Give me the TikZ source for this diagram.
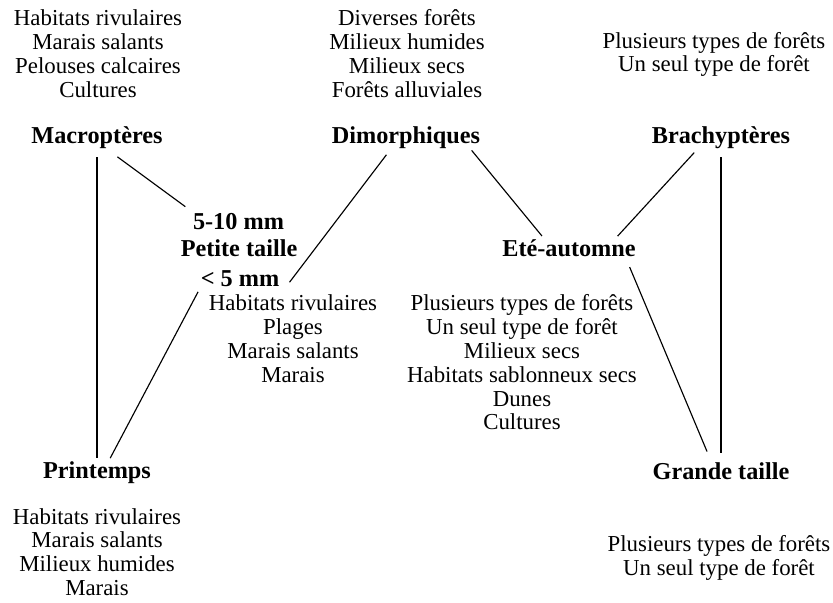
\documentclass[tikz,border=0pt]{standalone}
\usepackage{fontspec}
\setmainfont{Liberation Serif}
\usepackage{tikz}
\usetikzlibrary{positioning,calc}

\tikzset{
  lbl/.style={font=\bfseries\fontsize{13.8}{15}\selectfont,inner sep=0pt},
  lst/.style={align=center,font=\fontsize{13}{13.55}\selectfont,inner sep=0pt},
  link/.style={line width=0.65pt}
}

\begin{document}
\begin{tikzpicture}
\useasboundingbox (0,0) rectangle (16.66,12.04);

% habitat lists, top row
\node[lst] (habMacro) at (1.96,10.97) {Habitats rivulaires\\Marais salants\\Pelouses calcaires\\Cultures};
\node[lst] (habDimo) at (8.14,10.97) {Diverses forêts\\Milieux humides\\Milieux secs\\Forêts alluviales};
\node[lst] (habBrach) at (14.28,10.95) {Plusieurs types de forêts\\Un seul type de forêt};

% wing types
\node[lbl] (macro) at (1.94,9.29) {Macroptères};
\node[lbl] (dimorph) at (8.12,9.29) {Dimorphiques};
\node[lbl] (brach) at (14.42,9.29) {Brachyptères};

% small size / summer-autumn
\node[lbl] (sizeA) at (4.77,7.60) {5-10 mm};
\node[lbl] (sizeB) at (4.78,7.08) {Petite taille};
\node[lbl] (sizeC) at (4.80,6.46) {< 5 mm};
\node[lbl] (ete) at (11.38,7.08) {Eté-automne};

\node[lst] (habSmall) at (5.86,5.27) {Habitats rivulaires\\Plages\\Marais salants\\Marais};
\node[lst] (habEte) at (10.44,4.79) {Plusieurs types de forêts\\Un seul type de forêt\\Milieux secs\\Habitats sablonneux secs\\Dunes\\Cultures};

% spring / large size
\node[lbl] (print) at (1.94,2.58) {Printemps};
\node[lbl] (grande) at (14.42,2.62) {Grande taille};

\node[lst] (habPrint) at (1.94,1.0) {Habitats rivulaires\\Marais salants\\Milieux humides\\Marais};
\node[lst] (habGrande) at (14.38,0.88) {Plusieurs types de forêts\\Un seul type de forêt};

% links
\draw[link,shorten <=0.17cm,shorten >=0.08cm] (macro.south) -- (print.north);
\draw[link,shorten <=0.27cm,shorten >=0.23cm] (macro.-50) -- (sizeA.169);
\draw[link,shorten <=0.15cm,shorten >=0.13cm] (dimorph.-143) -- ([xshift=0.12cm]sizeC.south east);
\draw[link,shorten <=0.1cm,shorten >=0.08cm] (sizeC.south west) -- (print.45);
\draw[link,shorten <=0.04cm,shorten >=0.08cm] (dimorph.-10) -- (ete.160);
\draw[link,shorten <=0.1cm,shorten >=0.08cm] (brach.-154) -- (ete.11);
\draw[link,shorten <=0.17cm,shorten >=0.19cm] (brach.south) -- (grande.north);
\draw[link,shorten <=0.22cm,shorten >=0.23cm] (ete.-9) -- (grande.137);

\end{tikzpicture}
\end{document}
